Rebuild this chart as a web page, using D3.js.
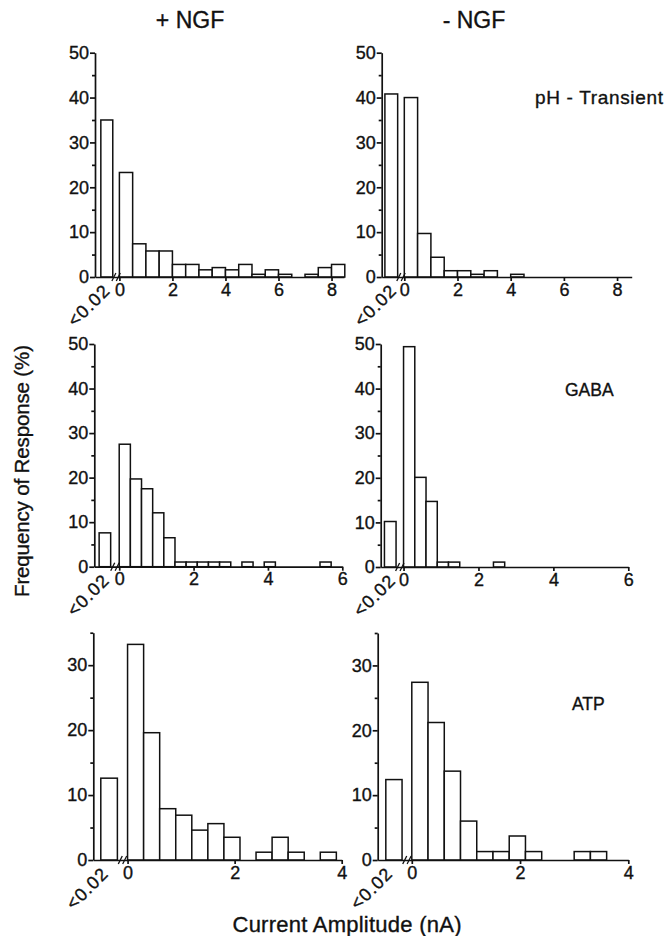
<!DOCTYPE html>
<html><head><meta charset="utf-8">
<script src="https://cdn.jsdelivr.net/npm/d3@7"></script>
<style>body{margin:0;background:#fff} svg{display:block} text{paint-order:stroke}</style>
</head><body>
<svg id="c" width="667" height="936"></svg>
<script>
// ---------------- data (percent of cells per amplitude bin) ----------------
const belowLabel = "<0.02";
const columnTitles = ["+ NGF", "- NGF"];
const rowLabels = ["pH - Transient", "GABA", "ATP"];

const phBinWidth = 0.5;
const phPlusBelow = 35.0;
const phPlus  = [23.3, 7.4, 5.8, 5.8, 2.8, 2.8, 1.6, 2.1, 1.6, 2.8, 0.6, 1.6, 0.6, 0, 0.6, 2.1, 2.8];
const phMinusBelow = 40.8;
const phMinus = [40.0, 9.7, 4.4, 1.4, 1.4, 0.6, 1.4, 0, 0.6];

const gabaBinWidth = 0.3;
const gabaPlusBelow = 7.6;
const gabaPlus  = [27.5, 19.7, 17.5, 12.1, 6.5, 1.05, 1.05, 1.05, 1.05, 1.05, 0, 1.05, 0, 1.05, 0, 0, 0, 0, 1.05];
const gabaMinusBelow = 10.2;
const gabaMinus = [49.4, 20.1, 14.7, 1.1, 1.1, 0, 0, 0, 1.1];

const atpBinWidth = 0.3;
const atpPlusBelow = 12.6;
const atpPlus  = [33.2, 19.6, 7.9, 6.9, 4.6, 5.6, 3.5, 0, 1.2, 3.5, 1.2, 0, 1.2];
const atpMinusBelow = 12.4;
const atpMinus = [27.4, 21.2, 13.7, 6.0, 1.3, 1.3, 3.7, 1.3, 0, 0, 1.3, 1.3];

const yTicks50 = [0, 10, 20, 30, 40, 50];
const yMinor50 = [5, 15, 25, 35, 45];
const yTicks35 = [0, 10, 20, 30];
const yMinor35 = [5, 15, 25, 35];
const xTicksPH = [0, 2, 4, 6, 8];
const xTicksGABA = [0, 2, 4, 6];
const xTicksATP = [0, 2, 4];

// ---------------- layout ----------------
const panels = [
  {values: phPlus, below: phPlusBelow, bw: phBinWidth, yMax: 50, yTicks: yTicks50, yMinor: yMinor50, xTicks: xTicksPH,
   left: 95, right: 344, top: 52.7, bottom: 277, xMin: -0.92, xMax: 8.47, low: [-0.70, -0.25]},
  {values: phMinus, below: phMinusBelow, bw: phBinWidth, yMax: 50, yTicks: yTicks50, yMinor: yMinor50, xTicks: xTicksPH,
   left: 381.7, right: 631.7, top: 52.7, bottom: 277, xMin: -0.85, xMax: 8.55, low: [-0.73, -0.25]},
  {values: gabaPlus, below: gabaPlusBelow, bw: gabaBinWidth, yMax: 50, yTicks: yTicks50, yMinor: yMinor50, xTicks: xTicksGABA,
   left: 94.3, right: 342.3, top: 344, bottom: 566.7, xMin: -0.67, xMax: 6, low: [-0.54, -0.23]},
  {values: gabaMinus, below: gabaMinusBelow, bw: gabaBinWidth, yMax: 50, yTicks: yTicks50, yMinor: yMinor50, xTicks: xTicksGABA,
   left: 380.7, right: 628.3, top: 344, bottom: 567, xMin: -0.61, xMax: 6, low: [-0.51, -0.20]},
  {values: atpPlus, below: atpPlusBelow, bw: atpBinWidth, yMax: 35, yTicks: yTicks35, yMinor: yMinor35, xTicks: xTicksATP,
   left: 93.3, right: 341.7, top: 632.7, bottom: 860, xMin: -0.64, xMax: 4, low: [-0.50, -0.19]},
  {values: atpMinus, below: atpMinusBelow, bw: atpBinWidth, yMax: 35, yTicks: yTicks35, yMinor: yMinor35, xTicks: xTicksATP,
   left: 377.7, right: 628.3, top: 633, bottom: 860, xMin: -0.63, xMax: 4, low: [-0.48, -0.18]}
];

const FONT = "'Liberation Sans', Arial, Helvetica, sans-serif";
const INK = "#111";
const svg = d3.select("#c");

function styleText(sel, size) {
  sel.style("font-family", FONT).style("font-size", size + "px").attr("fill", INK)
    .attr("stroke", INK).attr("stroke-width", 0.35);
  return sel;
}

function drawPanel(p) {
  const g = svg.append("g");
  const x = d3.scaleLinear().domain([p.xMin, p.xMax]).range([p.left, p.right]);
  const y = d3.scaleLinear().domain([0, p.yMax]).range([p.bottom, p.top]);

  const bins = p.values.map((v, i) => ({x0: i * p.bw, x1: (i + 1) * p.bw, v}));
  bins.unshift({x0: p.low[0], x1: p.low[1], v: p.below});

  g.selectAll("rect.bar").data(bins.filter(b => b.v > 0)).join("rect")
    .attr("class", "bar")
    .attr("x", d => x(d.x0)).attr("width", d => x(d.x1) - x(d.x0))
    .attr("y", d => y(d.v)).attr("height", d => y(0) - y(d.v))
    .attr("fill", "#fff").attr("stroke", INK).attr("stroke-width", 1.5);

  const ya = g.append("g").attr("transform", `translate(${p.left},0)`)
    .call(d3.axisLeft(y).tickValues(p.yTicks).tickSize(5).tickSizeOuter(0).tickPadding(1).tickFormat(d3.format("d")));
  const ym = g.append("g").attr("transform", `translate(${p.left},0)`)
    .call(d3.axisLeft(y).tickValues(p.yMinor).tickSize(3).tickSizeOuter(0).tickFormat(""));
  ym.select(".domain").remove();

  const xa = g.append("g").attr("transform", `translate(0,${p.bottom})`)
    .call(d3.axisBottom(x).tickValues(p.xTicks).tickSize(4).tickSizeOuter(0).tickPadding(2).tickFormat(d3.format("d")));

  [ya, ym, xa].forEach(a => {
    a.selectAll("path,line").attr("stroke", INK).attr("stroke-width", 1.7);
    styleText(a.selectAll("text"), 18);
  });

  const mx = (x(p.low[1]) + x(0)) / 2;
  [-2.2, 2.2].forEach(off => {
    g.append("line")
      .attr("x1", mx + off - 2).attr("y1", p.bottom + 4)
      .attr("x2", mx + off + 2).attr("y2", p.bottom - 4)
      .attr("stroke", INK).attr("stroke-width", 1.3);
  });

  styleText(g.append("text"), 18)
    .attr("transform", `translate(${p.left + 11},${p.bottom + 11}) rotate(-45)`)
    .attr("text-anchor", "end").attr("dy", "0.35em")
    .attr("textLength", 50)
    .text(belowLabel);
}
panels.forEach(drawPanel);

const titleX = [190, 474];
columnTitles.forEach((t, i) => {
  styleText(svg.append("text"), 23).attr("x", titleX[i]).attr("y", 28).attr("text-anchor", "middle").text(t);
});

const rowPos = [{x: 535, y: 104, size: 19, len: 128}, {x: 565, y: 396, size: 17.5}, {x: 572, y: 710, size: 17.5}];
rowLabels.forEach((t, i) => {
  const r = rowPos[i];
  const el = styleText(svg.append("text"), r.size).attr("x", r.x).attr("y", r.y).text(t);
  if (r.len) el.attr("textLength", r.len);
});

styleText(svg.append("text"), 20.5)
  .attr("transform", "translate(29,471) rotate(-90)").attr("text-anchor", "middle")
  .attr("textLength", 252)
  .text("Frequency of Response (%)");
styleText(svg.append("text"), 22)
  .attr("x", 347).attr("y", 932).attr("text-anchor", "middle")
  .attr("textLength", 229)
  .text("Current Amplitude (nA)");
</script>
</body></html>
